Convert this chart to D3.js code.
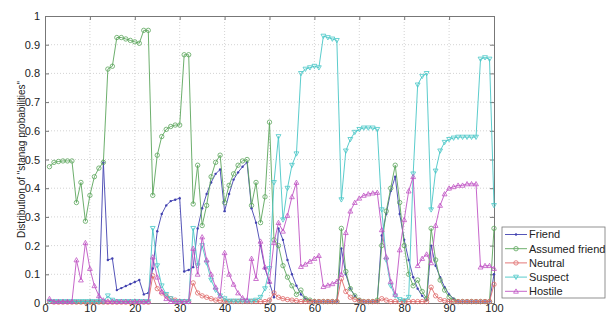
<!DOCTYPE html>
<html><head><meta charset="utf-8">
<script src="https://cdn.jsdelivr.net/npm/d3@7"></script>
<style>body{margin:0;background:#fff}svg{display:block}text{font-family:Arial,"Liberation Sans",sans-serif}</style>
</head><body><svg id="c" width="610" height="316"></svg>
<script>
const xValues = d3.range(1, 101);
const friend = [0.008,0.005,0.005,0.005,0.005,0.005,0.005,0.005,0.005,0.005,0.005,0.005,0.49,0.15,0.155,0.045,0.052,0.059,0.066,0.073,0.08,0.03,0.035,0.12,0.25,0.31,0.34,0.355,0.36,0.365,0.11,0.115,0.125,0.26,0.33,0.38,0.42,0.45,0.465,0.32,0.38,0.43,0.455,0.475,0.49,0.33,0.28,0.2,0.12,0.07,0.02,0.26,0.22,0.15,0.1,0.06,0.03,0.015,0.01,0.005,0.005,0.005,0.005,0.005,0.005,0.19,0.1,0.05,0.025,0.01,0.005,0.005,0.005,0.005,0.235,0.31,0.39,0.44,0.31,0.22,0.15,0.09,0.05,0.025,0.01,0.2,0.13,0.09,0.055,0.03,0.015,0.005,0.005,0.005,0.005,0.005,0.005,0.005,0.005,0.1];
const assumedFriend = [0.475,0.49,0.493,0.495,0.495,0.495,0.35,0.42,0.285,0.375,0.44,0.47,0.49,0.815,0.825,0.925,0.925,0.92,0.915,0.91,0.905,0.95,0.95,0.375,0.515,0.58,0.605,0.615,0.62,0.62,0.865,0.865,0.345,0.48,0.27,0.34,0.44,0.49,0.515,0.35,0.41,0.45,0.48,0.495,0.5,0.34,0.42,0.28,0.37,0.63,0.22,0.2,0.13,0.09,0.06,0.03,0.045,0.015,0.01,0.005,0.005,0.005,0.005,0.005,0.005,0.26,0.11,0.05,0.025,0.01,0.005,0.005,0.005,0.01,0.2,0.32,0.4,0.48,0.35,0.2,0.1,0.06,0.08,0.04,0.015,0.26,0.15,0.08,0.045,0.02,0.01,0.005,0.005,0.005,0.005,0.005,0.005,0.005,0.005,0.26];
const neutral = [0.005,0.003,0.003,0.003,0.003,0.003,0.003,0.003,0.003,0.003,0.003,0.003,0.003,0.003,0.003,0.003,0.003,0.003,0.003,0.003,0.003,0.003,0.003,0.095,0.05,0.035,0.025,0.015,0.01,0.005,0.005,0.005,0.07,0.035,0.025,0.02,0.015,0.01,0.008,0.007,0.005,0.005,0.005,0.005,0.005,0.005,0.005,0.005,0.005,0.01,0.035,0.02,0.015,0.012,0.01,0.008,0.005,0.005,0.005,0.005,0.005,0.005,0.005,0.005,0.005,0.085,0.04,0.02,0.012,0.008,0.005,0.005,0.005,0.005,0.015,0.01,0.005,0.005,0.005,0.005,0.005,0.005,0.005,0.005,0.005,0.055,0.025,0.012,0.008,0.005,0.005,0.005,0.005,0.005,0.005,0.005,0.005,0.005,0.005,0.065];
const suspect = [0.005,0.005,0.005,0.005,0.005,0.005,0.005,0.005,0.005,0.005,0.005,0.005,0.005,0.025,0.01,0.005,0.005,0.005,0.005,0.005,0.005,0.005,0.005,0.26,0.13,0.06,0.03,0.015,0.005,0.005,0.005,0.005,0.26,0.13,0.2,0.14,0.08,0.045,0.025,0.015,0.007,0.007,0.007,0.007,0.007,0.007,0.01,0.02,0.05,0.12,0.42,0.58,0.29,0.4,0.48,0.52,0.8,0.815,0.82,0.825,0.82,0.93,0.925,0.92,0.915,0.36,0.53,0.57,0.595,0.605,0.61,0.61,0.61,0.605,0.325,0.15,0.06,0.025,0.012,0.008,0.02,0.45,0.76,0.79,0.8,0.325,0.46,0.53,0.56,0.57,0.575,0.578,0.578,0.578,0.578,0.578,0.85,0.855,0.85,0.34];
const hostile = [0.015,0.005,0.005,0.005,0.005,0.005,0.15,0.08,0.21,0.12,0.06,0.025,0.01,0.005,0.005,0.005,0.005,0.005,0.005,0.005,0.005,0.005,0.005,0.16,0.09,0.04,0.015,0.005,0.005,0.005,0.005,0.005,0.19,0.1,0.23,0.15,0.1,0.055,0.025,0.175,0.1,0.065,0.035,0.018,0.01,0.155,0.085,0.215,0.125,0.075,0.21,0.28,0.25,0.305,0.37,0.42,0.127,0.135,0.145,0.155,0.165,0.057,0.062,0.067,0.075,0.1,0.245,0.32,0.35,0.365,0.375,0.38,0.383,0.385,0.255,0.16,0.075,0.03,0.185,0.29,0.39,0.44,0.13,0.155,0.17,0.14,0.27,0.34,0.38,0.4,0.405,0.41,0.41,0.415,0.415,0.415,0.125,0.13,0.13,0.12];
const seriesNames = ["Friend","Assumed friend","Neutral","Suspect","Hostile"];
const xTicks = d3.range(0, 101, 10);
const yTicks = d3.range(0, 11).map(i => i / 10);
const yLabel = 'Distribution of "stanag probabilities"';

const colors = ["#4242b0","#5ca65c","#e06a6a","#48c6c6","#c054c4"];
const markers = ["dot","circle","circle","down","up"];
const data = [friend, assumedFriend, neutral, suspect, hostile];

const svg = d3.select("#c");
const L = 45, R = 494, T = 16, B = 303;
const x = d3.scaleLinear().domain([0, 100]).range([L, R]);
const y = d3.scaleLinear().domain([0, 1]).range([B, T]);

const g = svg.append("g");
g.selectAll(".gx").data(xTicks.slice(1, -1)).enter().append("line")
  .attr("x1", d => x(d)).attr("x2", d => x(d)).attr("y1", T).attr("y2", B)
  .attr("stroke", "#c8c8c8").attr("stroke-width", 0.8).attr("stroke-dasharray", "1,2");
g.selectAll(".gy").data(yTicks.slice(1, -1)).enter().append("line")
  .attr("y1", d => y(d)).attr("y2", d => y(d)).attr("x1", L).attr("x2", R)
  .attr("stroke", "#c8c8c8").attr("stroke-width", 0.8).attr("stroke-dasharray", "1,2");

const axB = d3.axisBottom(x).tickValues(xTicks).tickSize(-4).tickPadding(1).tickFormat(d3.format("d"));
const axT = d3.axisTop(x).tickValues(xTicks).tickSize(-4).tickFormat("");
const axL = d3.axisLeft(y).tickValues(yTicks).tickSize(-4).tickPadding(5).tickFormat(d => d === 0 ? "0" : d === 1 ? "1" : d3.format(".1f")(d));
const axR = d3.axisRight(y).tickValues(yTicks).tickSize(-4).tickFormat("");
function style(sel) {
  sel.selectAll("path").attr("stroke", "#777");
  sel.selectAll("line").attr("stroke", "#777");
  sel.selectAll("text").attr("fill", "#222").style("font-size", "11px").style("font-family", "Arial, 'Liberation Sans', sans-serif");
}
svg.append("g").attr("transform", `translate(0,${B})`).call(axB).call(style);
svg.append("g").attr("transform", `translate(0,${T})`).call(axT).call(style);
svg.append("g").attr("transform", `translate(${L},0)`).call(axL).call(style);
svg.append("g").attr("transform", `translate(${R},0)`).call(axR).call(style);

svg.append("text").attr("transform", `translate(21,${(T + B) / 2}) rotate(-90)`)
  .attr("text-anchor", "middle").attr("dy", "0.35em").style("font-size", "10px").attr("fill", "#222").text(yLabel);

function drawMarker(sel, type, color, cx, cy) {
  if (type === "dot") {
    sel.append("circle").attr("cx", cx).attr("cy", cy).attr("r", 1.2).attr("fill", color);
  } else if (type === "circle") {
    sel.append("circle").attr("cx", cx).attr("cy", cy).attr("r", 2.2).attr("fill", "none").attr("stroke", color).attr("stroke-width", 0.8);
  } else {
    const s = type === "up" ? -1 : 1;
    const p = [[cx - 2.4, cy - s * 1.9], [cx + 2.4, cy - s * 1.9], [cx, cy + s * 2.4]];
    sel.append("path").attr("d", "M" + p.map(q => q.join(",")).join("L") + "Z")
      .attr("fill", "none").attr("stroke", color).attr("stroke-width", 0.8);
  }
}

const plot = svg.append("g");
const line = d3.line().x((d, i) => x(xValues[i])).y(d => y(d));
data.forEach((vals, k) => {
  const gs = plot.append("g");
  gs.append("path").datum(vals).attr("d", line).attr("fill", "none").attr("stroke", colors[k]).attr("stroke-width", 0.9);
  vals.forEach((v, i) => drawMarker(gs, markers[k], colors[k], x(xValues[i]), y(v)));
});

const lg = svg.append("g");
lg.append("rect").attr("x", 502).attr("y", 227).attr("width", 103).attr("height", 71)
  .attr("fill", "#fff").attr("stroke", "#777").attr("stroke-width", 0.8);
seriesNames.forEach((n, k) => {
  const yy = 234.5 + k * 14.2;
  lg.append("line").attr("x1", 505).attr("x2", 527).attr("y1", yy).attr("y2", yy).attr("stroke", colors[k]).attr("stroke-width", 0.9);
  drawMarker(lg, markers[k], colors[k], 516, yy);
  lg.append("text").attr("x", 529).attr("y", yy).attr("dy", "0.35em").style("font-size", "11px").attr("fill", "#222").text(n);
});
</script></body></html>
